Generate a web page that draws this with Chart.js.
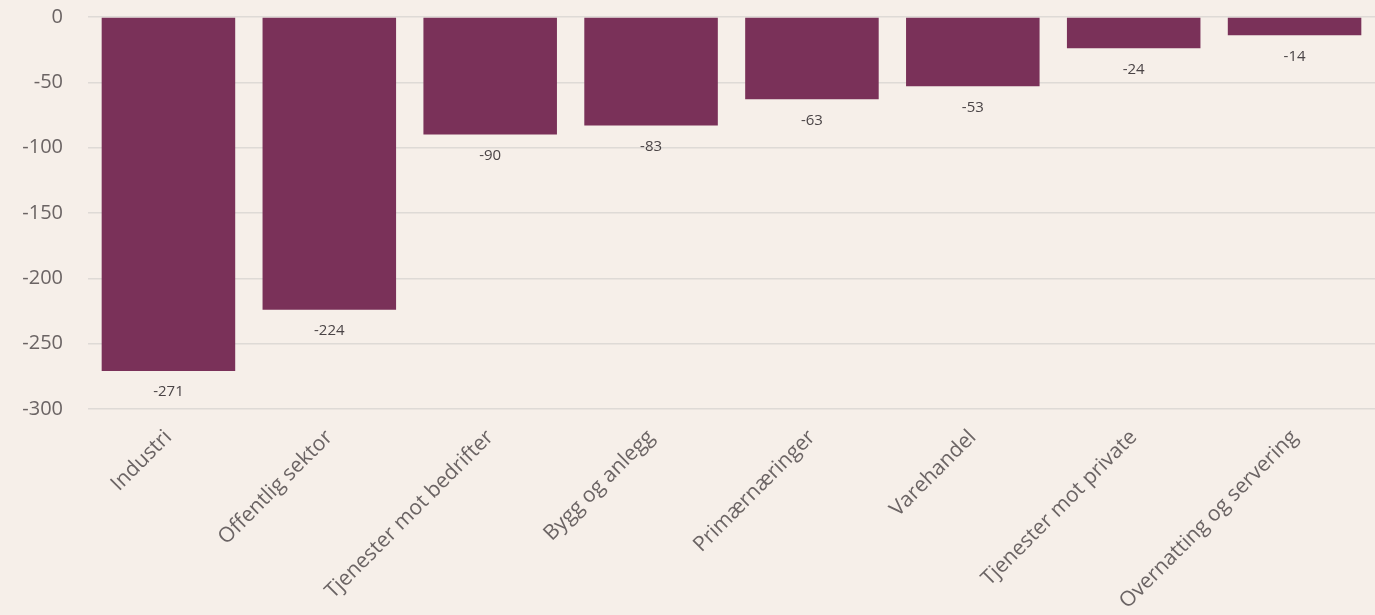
<!DOCTYPE html>
<html>
<head>
<meta charset="utf-8">
<script src="https://cdn.jsdelivr.net/npm/chart.js@4.4.1/dist/chart.umd.min.js"></script>
<style>
  html, body { margin: 0; padding: 0; background: #f6efe9; }
  #wrap { width: 1375px; height: 615px; }
</style>
</head>
<body>
<div id="wrap"><canvas id="chart"></canvas></div>
<script>
const categories = ['Industri', 'Offentlig sektor', 'Tjenester mot bedrifter', 'Bygg og anlegg',
  'Primærnæringer', 'Varehandel', 'Tjenester mot private', 'Overnatting og servering'];
const values = [-271, -224, -90, -83, -63, -53, -24, -14];
const yMin = -300, yMax = 0, yStep = 50;

const FONT = "'Open Sans', sans-serif";

// labels under the end of each bar
const valueLabels = {
  id: 'valueLabels',
  afterDatasetsDraw(chart) {
    const ctx = chart.ctx;
    const meta = chart.getDatasetMeta(0);
    ctx.save();
    ctx.font = '15px ' + FONT;
    ctx.fillStyle = '#4a4446';
    ctx.textAlign = 'center';
    ctx.textBaseline = 'middle';
    meta.data.forEach((bar, i) => {
      ctx.fillText(String(values[i]), bar.x, bar.y + 21);
    });
    ctx.restore();
  }
};

new Chart(document.getElementById('chart'), {
  type: 'bar',
  data: {
    labels: categories,
    datasets: [{
      data: values,
      backgroundColor: '#7a3159',
      borderWidth: 0,
      categoryPercentage: 1,
      barPercentage: 0.83
    }]
  },
  options: {
    responsive: true,
    maintainAspectRatio: false,
    animation: false,
    layout: { padding: 0 },
    scales: {
      x: {
        grid: { display: false },
        border: { display: false },
        ticks: {
          font: { family: FONT, size: 21 },
          color: '#6b6464',
          maxRotation: 45,
          minRotation: 45,
          padding: 8,
          autoSkip: false
        },
        afterFit(scale) { scale.height = 206; }
      },
      y: {
        min: yMin,
        max: yMax,
        grid: { color: '#dedad6', lineWidth: 1.5, drawTicks: false },
        border: { display: false },
        ticks: {
          stepSize: yStep,
          font: { family: FONT, size: 20 },
          color: '#6b6464',
          padding: 25
        },
        afterFit(scale) {
          scale.width = 88;
          scale.paddingTop = 17;
          scale.paddingBottom = 0;
        }
      }
    },
    plugins: {
      legend: { display: false },
      tooltip: { enabled: false }
    }
  },
  plugins: [valueLabels]
});
</script>
</body>
</html>
